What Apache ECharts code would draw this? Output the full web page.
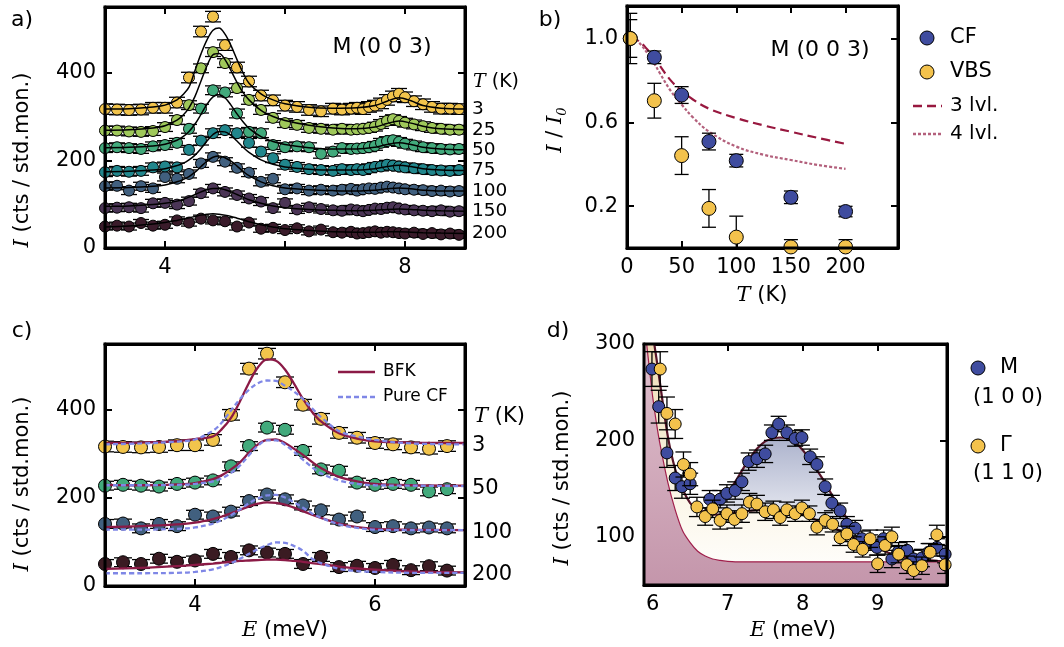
<!DOCTYPE html>
<html>
<head>
<meta charset="utf-8">
<script src="https://cdn.jsdelivr.net/npm/echarts@6/dist/echarts.min.js"></script>
<style>
  html, body { margin: 0; padding: 0; background: #fff; overflow: hidden; }
  #main { width: 1064px; height: 647px; }
</style>
</head>
<body>
<div id="main"></div>
<script>
const FONT = 'DejaVu Sans';
const SERIF = 'DejaVu Serif';

// ---- panel a: M (0 0 3) scans at all temperatures ----
const tempsA = ['3', '25', '50', '75', '100', '150', '200'];
const eA = [3.0, 3.2, 3.4, 3.6, 3.8, 4.0, 4.2, 4.4, 4.6, 4.8, 5.0, 5.2, 5.4, 5.6, 5.8, 6.0, 6.2, 6.4, 6.6, 6.8,
  6.95, 7.1, 7.2, 7.3, 7.4, 7.5, 7.6, 7.7, 7.8, 7.9, 8.0, 8.15, 8.3, 8.45, 8.6, 8.75, 8.9];
const a3 = [317, 316, 315, 316, 320, 320, 332, 389, 494, 528, 463, 412, 380, 348, 337, 325, 322, 315, 312, 318,
  316, 318, 320, 317, 322, 325, 330, 338, 346, 352, 344, 335, 328, 322, 318, 318, 317];
const a25 = [268, 268, 266, 265, 267, 276, 292, 326, 410, 447, 422, 365, 338, 315, 297, 285, 281, 274, 272, 270,
  272, 270, 271, 272, 274, 277, 283, 290, 294, 290, 286, 282, 278, 274, 272, 270, 270];
const a50 = [228, 230, 228, 226, 232, 235, 240, 272, 318, 360, 355, 307, 265, 262, 235, 230, 232, 230, 215, 220,
  228, 226, 227, 228, 230, 233, 240, 244, 246, 242, 238, 234, 230, 228, 226, 225, 226];
const a75 = [173, 176, 174, 176, 184, 186, 184, 224, 245, 262, 269, 262, 240, 220, 205, 190, 185, 180, 178, 176,
  180, 178, 180, 178, 182, 185, 186, 190, 188, 186, 184, 182, 180, 178, 177, 176, 178];
const a100 = [141, 142, 131, 141, 136, 162, 158, 169, 193, 208, 197, 183, 172, 151, 158, 134, 136, 131, 133, 131,
  133, 135, 131, 134, 136, 135, 138, 140, 138, 136, 134, 133, 132, 130, 131, 129, 130];
const a150 = [91, 92, 93, 91, 102, 103, 99, 107, 125, 136, 128, 121, 113, 106, 91, 103, 88, 93, 89, 86,
  85, 88, 86, 84, 87, 90, 89, 92, 93, 90, 88, 86, 85, 84, 86, 83, 84];
const a200 = [49, 51, 49, 57, 51, 53, 63, 58, 67, 63, 61, 49, 58, 44, 46, 41, 45, 38, 42, 36,
  35, 37, 33, 34, 36, 38, 35, 37, 36, 34, 33, 35, 32, 34, 31, 33, 30];
const errA = [12, 10, 10, 10, 9, 9, 8];

const eFitA = [3.0, 3.4, 3.8, 4.0, 4.2, 4.3, 4.4, 4.5, 4.6, 4.7, 4.8, 4.9, 5.0, 5.1, 5.2, 5.3, 5.4, 5.6, 5.8, 6.0,
  6.4, 6.8, 7.2, 7.5, 7.7, 7.9, 8.1, 8.3, 8.6, 9.0];
const fa3 = [317, 318, 322, 326, 338, 350, 367, 405, 443, 475, 497, 502, 488, 462, 430, 400, 376, 352, 338, 329,
  321, 319, 320, 325, 335, 343, 336, 325, 319, 317];
const fa25 = [269, 270, 274, 279, 292, 303, 320, 346, 381, 416, 441, 444, 430, 405, 378, 355, 338, 314, 300, 291,
  280, 274, 272, 276, 284, 290, 285, 278, 272, 270];
const fa50 = [229, 230, 233, 237, 246, 254, 266, 283, 305, 328, 345, 350, 343, 326, 306, 288, 273, 254, 243, 236,
  229, 226, 226, 230, 236, 240, 236, 230, 226, 224];
const fa75 = [174, 175, 178, 181, 188, 193, 201, 212, 227, 244, 259, 266, 265, 257, 244, 230, 218, 201, 191, 185,
  180, 178, 178, 181, 186, 189, 186, 181, 178, 177];
const fa100 = [137, 138, 141, 144, 151, 156, 163, 173, 186, 198, 207, 210, 206, 198, 187, 175, 165, 151, 142, 137,
  133, 131, 130, 132, 135, 137, 135, 132, 130, 130];
const fa150 = [95, 96, 99, 102, 107, 111, 116, 122, 128, 133, 136, 136, 133, 128, 122, 116, 110, 102, 96, 92,
  88, 86, 85, 86, 88, 89, 88, 86, 85, 84];
const fa200 = [48, 50, 55, 58, 63, 66, 69, 72, 75, 77, 78, 77, 75, 72, 68, 64, 60, 53, 48, 44,
  40, 37, 36, 36, 37, 37, 36, 35, 34, 33];
const colorsA = ['#f2c44c', '#9fc85a', '#42aa7c', '#21868c', '#41607f', '#4b3556', '#3a1b2a'];

// ---- panel b: integrated intensity vs T ----
const tempsB = [3, 25, 50, 75, 100, 150, 200];
const cf = [1.0, 0.91, 0.73, 0.508, 0.417, 0.242, 0.174];
const cfErr = [0.09, 0.03, 0.04, 0.04, 0.03, 0.03, 0.025];
const vbs = [1.0, 0.703, 0.441, 0.189, 0.052, 0.005, 0.005];
const vbsErr = [0.12, 0.083, 0.09, 0.09, 0.1, 0.035, 0.035];
const tCurve = [3, 10, 20, 25, 30, 40, 50, 60, 75, 100, 125, 150, 175, 200];
const lvl3 = [1.0, 0.99, 0.94, 0.91, 0.87, 0.80, 0.75, 0.71, 0.665, 0.62, 0.585, 0.555, 0.525, 0.497];
const lvl4 = [1.0, 0.985, 0.92, 0.88, 0.835, 0.75, 0.685, 0.625, 0.556, 0.484, 0.445, 0.42, 0.396, 0.378];

// ---- panel c: selected temperatures with BFK / pure CF fits ----
const tempsC = ['3', '50', '100', '200'];
const eC = [3.0, 3.2, 3.4, 3.6, 3.8, 4.0, 4.2, 4.4, 4.6, 4.8, 5.0, 5.2, 5.4, 5.6, 5.8, 6.0, 6.2, 6.4, 6.6, 6.8];
const c3 = [317, 316, 315, 316, 320, 320, 332, 389, 494, 528, 463, 412, 380, 348, 337, 325, 322, 315, 312, 318];
const c50 = [228, 230, 228, 226, 232, 235, 240, 272, 318, 360, 355, 307, 265, 262, 235, 230, 232, 230, 215, 220];
const c100 = [141, 142, 131, 141, 136, 162, 158, 169, 193, 208, 197, 183, 172, 151, 158, 134, 136, 131, 133, 131];
const c200 = [50, 54, 50, 62, 55, 58, 73, 66, 81, 76, 73, 50, 66, 43, 46, 41, 48, 36, 45, 35];
const errC = [12, 10, 10, 10];
const eFitC = [3.0, 3.4, 3.8, 4.0, 4.2, 4.3, 4.4, 4.5, 4.6, 4.7, 4.8, 4.9, 5.0, 5.1, 5.2, 5.3, 5.4, 5.6, 5.8, 6.0, 6.4, 7.0];
const bfk3 = [325, 326, 329, 334, 340, 357, 382, 420, 462, 497, 515, 512, 492, 460, 425, 396, 374, 347, 335, 329, 326, 325];
const pcf3 = [322, 324, 328, 333, 353, 372, 399, 425, 446, 461, 467, 466, 455, 442, 425, 404, 384, 352, 340, 332, 324, 322];
const bfk50 = [230, 229, 231, 234, 243, 252, 265, 281, 303, 322, 332, 333, 325, 312, 298, 282, 268, 248, 238, 232, 229, 228];
const pcf50 = [229, 229, 230, 232, 238, 245, 257, 274, 297, 319, 331, 331, 321, 305, 287, 270, 256, 240, 232, 229, 228, 227];
const bfk100 = [134, 136, 140, 144, 152, 158, 165, 173, 181, 187, 190, 189, 185, 178, 170, 162, 155, 142, 134, 130, 128, 127];
const pcf100 = [128, 128, 130, 133, 142, 150, 161, 174, 188, 199, 206, 207, 201, 190, 178, 165, 155, 140, 132, 128, 127, 127];
const bfk200 = [39, 41, 45, 48, 51, 53, 55, 57, 58, 59, 60, 60, 59, 57, 55, 52, 50, 44, 40, 37, 33, 31];
const pcf200 = [29, 29, 30, 32, 38, 44, 52, 62, 73, 84, 93, 99, 98, 91, 80, 62, 52, 39, 34, 32, 30, 30];
const colorsC = ['#f2c44c', '#42aa7c', '#41607f', '#3a1b22'];

// ---- panel d: M (1 0 0) and Gamma (1 1 0) ----
const mE = [5.99, 6.08, 6.19, 6.30, 6.39, 6.50, 6.76, 6.90, 6.99, 7.10, 7.19, 7.28, 7.39, 7.50, 7.59, 7.68, 7.79, 7.90, 7.99,
  8.10, 8.19, 8.30, 8.39, 8.50, 8.59, 8.70, 8.79, 8.90, 8.99, 9.08, 9.19, 9.28, 9.39, 9.48, 9.59, 9.68, 9.79, 9.90];
const mI = [274, 235, 187, 161, 152, 155, 139, 139, 145, 148, 157, 178, 181, 186, 208, 217, 208, 202, 203,
  183, 175, 152, 135, 127, 113, 109, 98, 94, 89, 98, 77, 85, 86, 77, 78, 84, 89, 82];
const mErr = [18, 17, 15, 13, 12, 11, 9, 9, 9, 9, 9, 9, 9, 9, 8, 8, 8, 8, 8,
  8, 8, 8, 8, 8, 8, 8, 8, 8, 8, 9, 9, 9, 9, 9, 9, 9, 9, 9];
const gE = [6.10, 6.19, 6.30, 6.41, 6.50, 6.59, 6.70, 6.80, 6.90, 6.99, 7.09, 7.19, 7.29, 7.39, 7.50, 7.61, 7.70, 7.79, 7.90,
  7.99, 8.09, 8.19, 8.30, 8.40, 8.50, 8.59, 8.68, 8.80, 8.90, 9.00, 9.10, 9.19, 9.28, 9.39, 9.48, 9.59, 9.70, 9.79, 9.90];
const gI = [274, 228, 217, 175, 165, 131, 121, 129, 117, 124, 118, 124, 136, 134, 126, 128, 120, 128, 124,
  130, 124, 110, 117, 113, 99, 103, 92, 87, 98, 72, 91, 100, 82, 71, 65, 70, 84, 102, 71];
const gErr = [18, 17, 15, 13, 12, 10, 9, 9, 9, 9, 9, 9, 9, 9, 9, 9, 8, 8, 8,
  8, 8, 8, 8, 8, 8, 8, 8, 8, 9, 9, 9, 10, 9, 9, 9, 9, 9, 10, 9];
const dE = [5.88, 5.92, 5.96, 6.0, 6.05, 6.1, 6.2, 6.3, 6.4, 6.5, 6.6, 6.7, 6.8, 6.9, 7.0, 7.1, 7.2, 7.3, 7.4, 7.5,
  7.6, 7.7, 7.8, 7.9, 8.0, 8.1, 8.2, 8.3, 8.4, 8.5, 8.6, 8.7, 8.8, 8.9, 9.0, 9.2, 9.4, 9.6, 9.8, 9.93];
const elastic = [335, 300, 272, 245, 218, 195, 157, 128, 106, 94, 85, 80, 77, 75.5, 74.5, 74, 74, 74, 74, 74,
  74, 74, 74, 74, 74, 74, 74, 74, 74, 74, 74, 74, 74, 74, 74, 74, 74, 74, 74, 74];
const mFit = [350, 318, 296, 275, 247, 212, 176, 154, 140, 131, 126, 127, 131, 137, 146, 157, 170, 182, 192, 199,
  202, 203, 202, 198, 190, 180, 168, 156, 142, 130, 118, 107, 99, 93, 88, 81, 77, 75, 74.5, 74];
const gFit = [420, 380, 345, 312, 285, 258, 205, 170, 149, 135, 128, 124, 123, 123, 124, 125, 126, 127, 128, 128,
  128, 127, 126, 124.5, 123, 120, 117, 114, 110, 106, 102, 98, 94, 91, 88, 82, 78, 76, 75, 74.5];

const zip = (xs, ys) => xs.map((x, i) => [x, ys[i]]);

const chart = echarts.init(document.getElementById('main'));

const gridBoxes = [
  { left: 105, top: 7, width: 360, height: 241 },
  { left: 627, top: 6, width: 271, height: 242 },
  { left: 105, top: 344, width: 360, height: 242 },
  { left: 644, top: 344, width: 303, height: 241 }
];
const grids = gridBoxes.map(g => Object.assign({ show: false, outerBoundsMode: 'none' }, g));

const xAxes = [];
const yAxes = [];
function addAxes(gi, xr, xTicks, xLabs, yr, yTicks, yLabs, yFmt) {
  const tick = vals => ({ show: true, inside: true, length: 7, customValues: vals, lineStyle: { color: '#000', width: 2 } });
  const lab = (vals, fmt) => ({ show: true, customValues: vals, fontSize: 21, fontFamily: FONT, color: '#000', margin: 9, formatter: fmt });
  const mk = (extra) => Object.assign({
    gridIndex: gi, type: 'value', splitLine: { show: false },
    axisLine: { show: true, onZero: false, lineStyle: { color: '#000', width: 3 } }
  }, extra);
  xAxes.push(mk({ min: xr[0], max: xr[1], position: 'bottom', axisTick: tick(xTicks), axisLabel: lab(xLabs) }));
  xAxes.push(mk({ min: xr[0], max: xr[1], position: 'top', axisTick: tick(xTicks), axisLabel: { show: false } }));
  yAxes.push(mk({ min: yr[0], max: yr[1], position: 'left', axisTick: tick(yTicks), axisLabel: lab(yLabs, yFmt) }));
  yAxes.push(mk({ min: yr[0], max: yr[1], position: 'right', axisTick: tick(yTicks), axisLabel: { show: false } }));
}
addAxes(0, [3, 9], [4, 6, 8], [4, 8], [0, 550], [0, 200, 400], [0, 200, 400]);
addAxes(1, [0, 248], [0, 50, 100, 150, 200], [0, 50, 100, 150, 200], [0, 1.155], [0.2, 0.6, 1.0], [0.2, 0.6, 1.0], v => v.toFixed(1));
addAxes(2, [3, 7], [4, 6], [4, 6], [0, 550], [0, 200, 400], [0, 200, 400]);
addAxes(3, [5.884, 9.925], [6, 7, 8, 9], [6, 7, 8, 9], [50, 300], [100, 200, 300], [100, 200, 300]);

function errorBars(gi, xs, ys, errs, cap, z) {
  return {
    type: 'custom', xAxisIndex: 2 * gi, yAxisIndex: 2 * gi, z, clip: true, silent: true,
    data: xs.map((x, i) => [x, ys[i], Array.isArray(errs) ? errs[i] : errs]),
    encode: { x: 0, y: 1 },
    renderItem: (params, api) => {
      const x = api.value(0), y = api.value(1), e = api.value(2);
      const hi = api.coord([x, y + e]);
      const lo = api.coord([x, y - e]);
      const s = { stroke: '#000', lineWidth: 1.3 };
      return {
        type: 'group', children: [
          { type: 'line', shape: { x1: hi[0], y1: hi[1], x2: lo[0], y2: lo[1] }, style: s },
          { type: 'line', shape: { x1: hi[0] - cap, y1: hi[1], x2: hi[0] + cap, y2: hi[1] }, style: s },
          { type: 'line', shape: { x1: lo[0] - cap, y1: lo[1], x2: lo[0] + cap, y2: lo[1] }, style: s }
        ]
      };
    }
  };
}
function points(gi, xs, ys, color, size, z) {
  return {
    type: 'scatter', xAxisIndex: 2 * gi, yAxisIndex: 2 * gi, z, silent: true,
    data: zip(xs, ys), symbol: 'circle', symbolSize: size,
    itemStyle: { color, borderColor: '#000', borderWidth: 1, opacity: 1 }
  };
}
function curve(gi, xs, ys, color, width, type, z, extra) {
  return Object.assign({
    type: 'line', xAxisIndex: 2 * gi, yAxisIndex: 2 * gi, z, silent: true,
    data: zip(xs, ys), symbol: 'none', smooth: 0.35,
    lineStyle: { color, width, type }
  }, extra || {});
}
// temperature tags placed just right of each curve's last point
function endLabels(gi, x, labels, ys, size) {
  return {
    type: 'custom', xAxisIndex: 2 * gi, yAxisIndex: 2 * gi, z: 10, silent: true, clip: false,
    data: ys.map(y => [x, y]),
    encode: { x: 0, y: 1 },
    renderItem: (params, api) => {
      const p = api.coord([api.value(0), api.value(1)]);
      return {
        type: 'text', x: p[0] + 7, y: p[1],
        style: { text: labels[params.dataIndex], fontSize: size, fontFamily: FONT, fill: '#000', align: 'left', verticalAlign: 'middle' }
      };
    }
  };
}

const series = [];

// panel a
const ptsA = [a3, a25, a50, a75, a100, a150, a200];
const fitsA = [fa3, fa25, fa50, fa75, fa100, fa150, fa200];
for (let i = ptsA.length - 1; i >= 0; i--) {
  series.push(errorBars(0, eA, ptsA[i], errA[i], 8, 3));
  series.push(points(0, eA, ptsA[i], colorsA[i], 11, 4));
  series.push(curve(0, eFitA, fitsA[i], '#000', 1.5, 'solid', 5));
}
series.push(endLabels(0, 9, tempsA, fitsA.map(f => f[f.length - 1]), 18.5));

// panel b
series.push(curve(1, tCurve, lvl3, '#98183f', 2.2, [9, 5], 3, { smooth: 0.4 }));
series.push(curve(1, tCurve, lvl4, '#b3607c', 2.2, [3, 2], 3, { smooth: 0.4 }));
series.push(errorBars(1, tempsB, cf, cfErr, 7, 4));
series.push(points(1, tempsB, cf, '#3f4c9f', 14, 5));
series.push(errorBars(1, tempsB, vbs, vbsErr, 7, 6));
series.push(points(1, tempsB, vbs, '#f3c24c', 14, 7));

// panel c
const ptsC = [c3, c50, c100, c200];
const bfkC = [bfk3, bfk50, bfk100, bfk200];
const pcfC = [pcf3, pcf50, pcf100, pcf200];
for (let i = ptsC.length - 1; i >= 0; i--) {
  series.push(errorBars(2, eC, ptsC[i], errC[i], 9, 3));
  series.push(points(2, eC, ptsC[i], colorsC[i], 13, 4));
  series.push(curve(2, eFitC, bfkC[i], '#8b1a46', 2.3, 'solid', 5));
  series.push(curve(2, eFitC, pcfC[i], '#7f87e6', 2.3, [5, 3], 6));
}
series.push(endLabels(2, 7, tempsC, bfkC.map(f => f[f.length - 1] - 6), 21));

// panel d: filled model components
const grad = stops => new echarts.graphic.LinearGradient(0, 0, 0, 1, stops);
series.push(curve(3, dE, mFit, '#561428', 2.2, 'solid', 1, {
  smooth: 0.3,
  areaStyle: { origin: 'start', opacity: 1, color: grad([
    { offset: 0, color: '#7f88ad' }, { offset: 0.35, color: '#8e97ba' },
    { offset: 0.7, color: '#d9dce8' }, { offset: 1, color: '#ffffff' }]) }
}));
series.push(curve(3, dE, gFit, '#561428', 2.2, 'solid', 2, {
  smooth: 0.3,
  areaStyle: { origin: 'start', opacity: 1, color: grad([
    { offset: 0, color: '#ecc998' }, { offset: 0.5, color: '#f3e6c8' },
    { offset: 0.75, color: '#fbf6e8' }, { offset: 1, color: '#ffffff' }]) }
}));
series.push(curve(3, dE, elastic, '#a0204c', 1.2, 'solid', 3, {
  smooth: 0.3,
  areaStyle: { origin: 'start', opacity: 1, color: grad([
    { offset: 0, color: '#e4c6d2' }, { offset: 1, color: '#c496ab' }]) }
}));
series.push(errorBars(3, mE, mI, mErr, 8, 4));
series.push(points(3, mE, mI, '#3f4c9f', 12, 5));
series.push(errorBars(3, gE, gI, gErr, 8, 6));
series.push(points(3, gE, gI, '#f3c24c', 12, 7));

// annotations
const it = size => ({ fontFamily: SERIF, fontStyle: 'italic', fontSize: size });
function txt(x, y, text, size, extra) {
  return Object.assign({
    type: 'text', x, y, silent: true, z: 100,
    style: { text, fontSize: size, fontFamily: FONT, fill: '#000', align: 'center', verticalAlign: 'middle', rich: { i: it(size), s: { fontFamily: SERIF, fontStyle: 'italic', fontSize: 13, padding: [14, 0, 0, 0] } } }
  }, extra || {});
}
function dot(x, y, color) {
  return { type: 'circle', silent: true, z: 100, shape: { cx: x, cy: y, r: 7 }, style: { fill: color, stroke: '#000', lineWidth: 1 } };
}
function seg(x1, x2, y, color, dash) {
  return { type: 'line', silent: true, z: 100, shape: { x1, y1: y, x2, y2: y }, style: { stroke: color, lineWidth: 2.3, lineDash: dash } };
}
const rot = { rotation: Math.PI / 2 };
const left = (x, y, t, s) => { const e = txt(x, y, t, s); e.style.align = 'left'; return e; };
// plot frames drawn from the grid boxes
const frames = gridBoxes.map(g => ({
  type: 'rect', silent: true, z: 90,
  shape: { x: g.left, y: g.top, width: g.width, height: g.height },
  style: { fill: null, stroke: '#000', lineWidth: 3 }
}));

const graphic = frames.concat([
  txt(22, 20, 'a)', 22), txt(550, 20, 'b)', 22), txt(22, 331, 'c)', 22), txt(558, 331, 'd)', 22),
  txt(23, 160, '{i|I} (cts / std.mon.)', 21, rot),
  txt(23, 484, '{i|I} (cts / std.mon.)', 21, rot),
  txt(563, 478, '{i|I} (cts / std.mon.)', 21, rot),
  txt(556, 130, '{i|I} / {i|I}{s|0}', 21, rot),
  txt(762, 296, '{i|T} (K)', 21),
  txt(285, 631, '{i|E} (meV)', 21),
  txt(793, 631, '{i|E} (meV)', 21),
  left(473, 82, '{i|T} (K)', 19),
  left(474, 417, '{i|T} (K)', 21),
  txt(382, 47, 'M (0 0 3)', 22),
  txt(820, 50, 'M (0 0 3)', 22),
  dot(927, 38, '#3f4c9f'), left(950, 38, 'CF', 21),
  dot(927, 72, '#f3c24c'), left(950, 72, 'VBS', 21),
  seg(913, 942, 106, '#98183f', [9, 5]), left(950, 106, '3 lvl.', 20),
  seg(913, 942, 134, '#b3607c', [3, 2]), left(950, 134, '4 lvl.', 20),
  seg(338, 375, 372, '#8b1a46', null), left(383, 372, 'BFK', 17),
  seg(338, 375, 397, '#7f87e6', [5, 3]), left(383, 397, 'Pure CF', 17),
  dot(978, 368, '#3f4c9f'), left(1000, 368, 'M', 21), txt(1008, 398, '(1 0 0)', 21),
  dot(978, 446, '#f3c24c'), left(1000, 446, 'Γ', 21), txt(1008, 474, '(1 1 0)', 21)
]);

chart.setOption({
  backgroundColor: '#fff',
  animation: false,
  textStyle: { fontFamily: FONT },
  grid: grids,
  xAxis: xAxes,
  yAxis: yAxes,
  series,
  graphic
});
</script>
</body>
</html>
